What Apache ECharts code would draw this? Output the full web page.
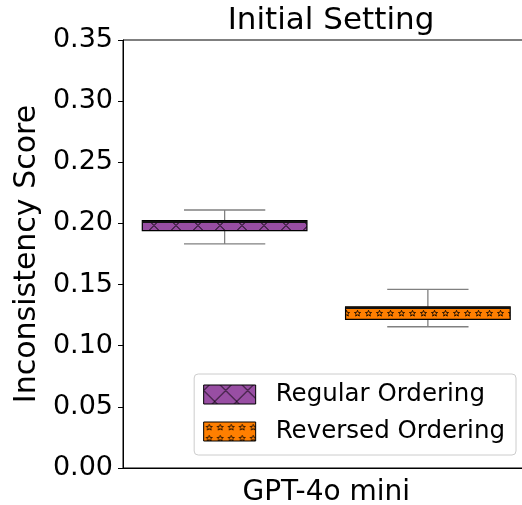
<!DOCTYPE html>
<html>
<head>
<meta charset="utf-8">
<script src="https://cdn.jsdelivr.net/npm/echarts@6/dist/echarts.min.js"></script>
<style>html,body{margin:0;padding:0;background:#fff}#chart{width:522px;height:505px}</style>
</head>
<body>
<div id="chart"></div>
<script>
// ---- data ----
const seriesNames = ['Regular Ordering', 'Reversed Ordering'];
const groupLabel = 'GPT-4o mini';
// [min, q1, median, q3, max]
const regularStats = [0.1832, 0.1941, 0.2012, 0.2023, 0.2110];
const reversedStats = [0.1155, 0.1215, 0.1308, 0.1318, 0.1461];
const yTicks = [0.00, 0.05, 0.10, 0.15, 0.20, 0.25, 0.30, 0.35];

// ---- hatch patterns ----
function makeCross(fill) {
  const c = document.createElement('canvas');
  c.width = 22; c.height = 22;
  const g = c.getContext('2d');
  g.fillStyle = fill; g.fillRect(0, 0, 22, 22);
  g.strokeStyle = '#000'; g.lineWidth = 1;
  g.translate(0, 5.5);
  for (let k = -1; k <= 1; k++) {
    g.beginPath(); g.moveTo(0, k * 22); g.lineTo(22, k * 22 + 22); g.stroke();
    g.beginPath(); g.moveTo(22, k * 22); g.lineTo(0, k * 22 + 22); g.stroke();
  }
  return { image: c, repeat: 'repeat' };
}
function makeStars(fill) {
  const c = document.createElement('canvas');
  c.width = 11; c.height = 11;
  const g = c.getContext('2d');
  g.fillStyle = fill; g.fillRect(0, 0, 11, 11);
  g.strokeStyle = '#000'; g.lineWidth = 0.8;
  const cx = 5.5, cy = 5.5, R = 3.2, r = 1.4;
  g.beginPath();
  for (let i = 0; i < 10; i++) {
    const a = -Math.PI / 2 + i * Math.PI / 5;
    const rr = i % 2 === 0 ? R : r;
    const px = cx + rr * Math.cos(a), py = cy + rr * Math.sin(a);
    if (i === 0) g.moveTo(px, py); else g.lineTo(px, py);
  }
  g.closePath(); g.stroke();
  return { image: c, repeat: 'repeat' };
}
const purplePattern = makeCross('#984ea3');
const orangePattern = makeStars('#ff7f00');
const patterns = [purplePattern, orangePattern];

function renderItem(params, api) {
  const cat = api.value(0);
  const vMin = api.value(1), q1 = api.value(2), med = api.value(3), q3 = api.value(4), vMax = api.value(5);
  const band = api.size([1, 0])[0];
  const cx = api.coord([cat, med])[0];
  const y = v => api.coord([cat, v])[1];
  const hb = band * 0.405, hc = band * 0.2;
  const whisk = { stroke: '#808080', lineWidth: 1.3 };
  return {
    type: 'group',
    children: [
      { type: 'line', shape: { x1: cx, y1: y(vMax), x2: cx, y2: y(q3) }, style: whisk },
      { type: 'line', shape: { x1: cx, y1: y(q1), x2: cx, y2: y(vMin) }, style: whisk },
      { type: 'line', shape: { x1: cx - hc, y1: y(vMax), x2: cx + hc, y2: y(vMax) }, style: whisk },
      { type: 'line', shape: { x1: cx - hc, y1: y(vMin), x2: cx + hc, y2: y(vMin) }, style: whisk },
      { type: 'rect', shape: { x: cx - hb, y: y(q3), width: 2 * hb, height: y(q1) - y(q3) },
        style: { fill: patterns[params.seriesIndex], stroke: '#000', lineWidth: 1.2 } },
      { type: 'line', shape: { x1: cx - hb, y1: y(med), x2: cx + hb, y2: y(med) }, style: { stroke: '#111', lineWidth: 2 } }
    ]
  };
}

const chart = echarts.init(document.getElementById('chart'), null, { renderer: 'canvas' });
const font = 'DejaVu Sans';
chart.setOption({
  animation: false,
  textStyle: { fontFamily: font },
  title: {
    text: 'Initial Setting', left: 326, top: 0, textAlign: 'center',
    textStyle: { fontFamily: font, fontSize: 31, fontWeight: 'normal', color: '#000' }
  },
  grid: { left: 123, top: 40, width: 406.5, bottom: 37, containLabel: false, outerBoundsMode: 'none',
    show: true, borderColor: '#000', borderWidth: 1 },
  legend: {
    orient: 'vertical', right: 6, top: 374,
    itemWidth: 52, itemHeight: 19, itemGap: 12,
    padding: [8, 11, 11, 9],
    borderColor: '#ccc', borderWidth: 1, borderRadius: 4, backgroundColor: 'rgba(255,255,255,0.8)',
    textStyle: { fontFamily: font, fontSize: 24.5, color: '#000', padding: [0, 0, 0, 15] },
    data: seriesNames.map((n, i) => ({ name: n, icon: 'rect', itemStyle: { color: patterns[i], borderColor: '#000', borderWidth: 1 } }))
  },
  xAxis: {
    type: 'category', data: seriesNames,
    name: groupLabel, nameLocation: 'middle', nameGap: 11,
    nameTextStyle: { fontFamily: font, fontSize: 28, color: '#000', verticalAlign: 'top' },
    axisLine: { lineStyle: { color: '#000', width: 1 } },
    axisTick: { alignWithLabel: true, length: 5, lineStyle: { color: '#000' } },
    axisLabel: { show: false },
    splitLine: { show: false }
  },
  yAxis: {
    type: 'value', min: 0, max: 0.35, interval: 0.05,
    name: 'Inconsistency Score', nameLocation: 'middle', nameGap: 80, nameRotate: 90,
    nameTextStyle: { fontFamily: font, fontSize: 30, color: '#000' },
    axisLine: { show: true, lineStyle: { color: '#000', width: 1 } },
    axisTick: { show: true, length: 5, lineStyle: { color: '#000' } },
    axisLabel: { fontFamily: font, fontSize: 27, color: '#000', margin: 10,
      formatter: v => { const t = yTicks.find(x => Math.abs(x - v) < 1e-9); return (t !== undefined ? t : v).toFixed(2); } },
    splitLine: { show: false }
  },
  series: [
    { name: seriesNames[0], type: 'custom', renderItem, itemStyle: { color: purplePattern },
      encode: { x: 0, y: [1, 2, 3, 4, 5] }, data: [[0].concat(regularStats)] },
    { name: seriesNames[1], type: 'custom', renderItem, itemStyle: { color: orangePattern },
      encode: { x: 0, y: [1, 2, 3, 4, 5] }, data: [[1].concat(reversedStats)] }
  ]
});
</script>
</body>
</html>
